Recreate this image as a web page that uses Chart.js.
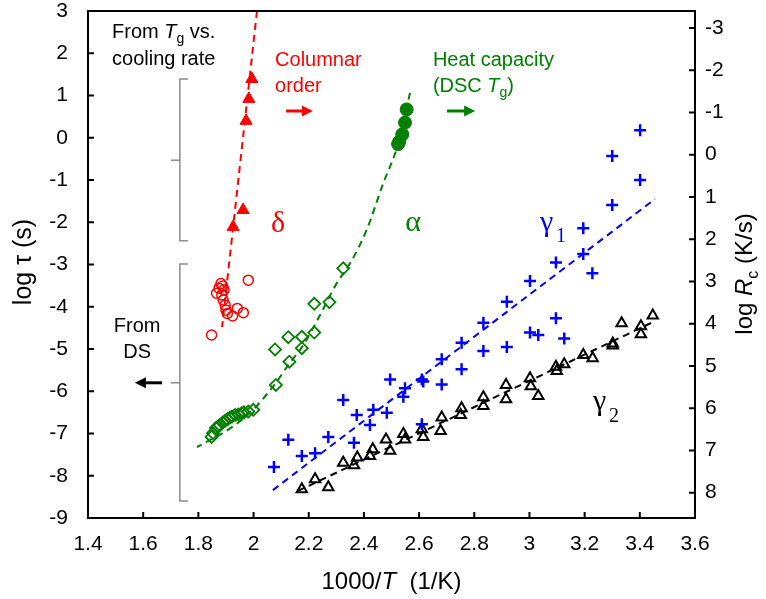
<!DOCTYPE html>
<html>
<head>
<meta charset="utf-8">
<script src="https://cdn.jsdelivr.net/npm/chart.js@4.4.1/dist/chart.umd.min.js"></script>
<style>
  body { margin: 0; background: #fff; }
</style>
</head>
<body>
<canvas id="chart" width="766" height="599"></canvas>
<script>
const xTicks = [1.4, 1.6, 1.8, 2, 2.2, 2.4, 2.6, 2.8, 3, 3.2, 3.4, 3.6];
const yTicks = [-9, -8, -7, -6, -5, -4, -3, -2, -1, 0, 1, 2, 3];
const rcTicks = [-3, -2, -1, 0, 1, 2, 3, 4, 5, 6, 7, 8];

// delta, from Tg vs. cooling rate (filled triangles)
const deltaTgX = [1.994, 1.983, 1.973, 1.962, 1.926];
const deltaTgY = [1.39, 0.92, 0.40, -1.71, -2.11];
// delta, from DS (open circles)
const deltaDsX = [1.981, 1.882, 1.888, 1.875, 1.893, 1.866, 1.885, 1.890, 1.897, 1.900, 1.905, 1.941, 1.963, 1.924, 1.848];
const deltaDsY = [-3.37, -3.45, -3.51, -3.56, -3.60, -3.68, -3.72, -3.84, -3.96, -4.08, -4.16, -4.04, -4.14, -4.22, -4.67];
const deltaFitX = [2.0125, 1.886];
const deltaFitY = [3, -4.48];

// alpha, heat capacity (filled circles)
const alphaDscX = [2.555, 2.549, 2.539, 2.528, 2.524];
const alphaDscY = [0.67, 0.36, 0.08, -0.09, -0.15];
// alpha, from DS (open diamonds)
const alphaDsX = [2.325, 2.275, 2.220, 2.220, 2.175, 2.126, 2.175, 2.078, 2.130, 2.081, 1.999, 1.981, 1.965, 1.957, 1.945, 1.933,
  1.922, 1.915, 1.906, 1.897, 1.888, 1.878, 1.870, 1.864, 1.853, 1.848];
const alphaDsY = [-3.09, -3.89, -3.93, -4.61, -4.71, -4.72, -4.98, -5.01, -5.30, -5.85, -6.44, -6.48, -6.50, -6.52, -6.55, -6.56,
  -6.60, -6.62, -6.66, -6.70, -6.74, -6.80, -6.84, -6.87, -6.99, -7.08];
const alphaFitX = [2.567, 2.525, 2.470, 2.410, 2.350, 2.301, 2.235, 2.176, 2.129, 2.081, 1.998, 1.915, 1.795];
const alphaFitY = [1.06, -0.13, -1.08, -2.18, -2.97, -3.45, -4.27, -4.95, -5.35, -5.80, -6.44, -6.88, -7.32];

// gamma1 (plus)
const gamma1X = [2.074, 2.126, 2.175, 2.223, 2.271, 2.325, 2.364, 2.374, 2.422, 2.434, 2.483, 2.495, 2.543, 2.549, 2.610, 2.615,
  2.610, 2.682, 2.682, 2.754, 2.754, 2.833, 2.833, 2.918, 2.918, 3.002, 3.002, 3.032, 3.096, 3.096, 3.126, 3.195, 3.195, 3.228,
  3.300, 3.300, 3.401, 3.401];
const gamma1Y = [-7.79, -7.15, -7.53, -7.47, -7.08, -6.21, -7.22, -6.56, -6.80, -6.44, -6.51, -5.72, -6.13, -5.93, -5.72, -5.77,
  -6.78, -5.24, -5.84, -4.85, -5.48, -4.38, -5.05, -3.88, -4.95, -3.39, -4.61, -4.67, -2.95, -4.27, -4.75, -2.14, -2.75, -3.21,
  -1.59, -0.43, -1.00, 0.18];
const gamma1FitX = [2.070, 3.455];
const gamma1FitY = [-8.34, -1.45];

// gamma2 (open triangles)
const gamma2X = [2.175, 2.223, 2.271, 2.325, 2.364, 2.376, 2.422, 2.432, 2.480, 2.495, 2.543, 2.549, 2.610, 2.615, 2.682, 2.678,
  2.754, 2.751, 2.833, 2.833, 2.915, 2.915, 3.002, 3.005, 3.032, 3.096, 3.099, 3.126, 3.195, 3.229, 3.302, 3.302, 3.334, 3.404,
  3.404, 3.447];
const gamma2Y = [-8.32, -8.08, -8.27, -7.69, -7.75, -7.57, -7.53, -7.37, -7.14, -7.41, -7.01, -7.14, -6.90, -7.08, -6.62, -6.94,
  -6.40, -6.56, -6.14, -6.35, -5.85, -6.19, -5.69, -5.88, -6.11, -5.42, -5.52, -5.36, -5.14, -5.22, -4.87, -4.92, -4.39, -4.46,
  -4.65, -4.21];
const gamma2FitX = [2.161, 3.455];
const gamma2FitY = [-8.36, -4.34];

const SANS = '"Liberation Sans", Arial, sans-serif';
const SERIF = '"Liberation Serif", "Times New Roman", serif';
const RED = '#ff0000', GREEN = '#008000', BLUE = '#0000ff';

const pts = (xs, ys) => xs.map((x, i) => ({ x, y: ys[i] }));

function marks(data, style, color, radius, filled, width) {
  return {
    data, showLine: false, pointStyle: style, pointRadius: radius,
    borderColor: color, backgroundColor: filled ? color : 'rgba(0,0,0,0)',
    pointBorderWidth: width
  };
}
function fit(data, color, smooth) {
  return {
    data, showLine: true, pointRadius: 0, borderColor: color, borderWidth: 2,
    borderDash: [7, 5], cubicInterpolationMode: smooth ? 'monotone' : 'default', fill: false
  };
}

// text with italic / subscript pieces
function rich(ctx, parts, x, y, size, color, align) {
  const fontOf = s => (s === 'i' ? 'italic ' : '') + (s === 'sub' ? Math.round(size * 0.68) : size) + 'px ' + SANS;
  let w = 0;
  parts.forEach(([t, s]) => { ctx.font = fontOf(s); w += ctx.measureText(t).width; });
  let cx = align === 'center' ? x - w / 2 : x;
  ctx.fillStyle = color;
  ctx.textAlign = 'left';
  ctx.textBaseline = 'alphabetic';
  parts.forEach(([t, s]) => {
    ctx.font = fontOf(s);
    ctx.fillText(t, cx, s === 'sub' ? y + size * 0.25 : y);
    cx += ctx.measureText(t).width;
  });
}

function arrow(ctx, x1, x2, y, color) {
  const dir = Math.sign(x2 - x1);
  ctx.strokeStyle = color; ctx.fillStyle = color; ctx.lineWidth = 3;
  ctx.beginPath(); ctx.moveTo(x1, y); ctx.lineTo(x2 - dir * 8, y); ctx.stroke();
  ctx.beginPath(); ctx.moveTo(x2, y); ctx.lineTo(x2 - dir * 11, y - 5.5); ctx.lineTo(x2 - dir * 11, y + 5.5); ctx.closePath(); ctx.fill();
}

function bracket(ctx, x, top, mid, bottom) {
  ctx.strokeStyle = '#8c8c8c'; ctx.lineWidth = 1.5;
  ctx.beginPath();
  ctx.moveTo(x + 8, top); ctx.lineTo(x, top); ctx.lineTo(x, bottom); ctx.lineTo(x + 8, bottom);
  ctx.moveTo(x, mid); ctx.lineTo(x - 9, mid);
  ctx.stroke();
}

const decor = {
  id: 'decor',
  afterDraw(chart) {
    const { ctx, chartArea: a, scales } = chart;
    const X = v => scales.x.getPixelForValue(v);
    const Y = v => scales.y.getPixelForValue(v);
    ctx.save();
    // frame and inward ticks
    ctx.strokeStyle = '#000'; ctx.lineWidth = 2;
    ctx.strokeRect(a.left, a.top, a.right - a.left, a.bottom - a.top);
    ctx.beginPath();
    xTicks.forEach(v => { const p = X(v); ctx.moveTo(p, a.bottom); ctx.lineTo(p, a.bottom - 6); });
    yTicks.forEach(v => { const p = Y(v); ctx.moveTo(a.left, p); ctx.lineTo(a.left + 6, p); });
    rcTicks.forEach(v => { const p = scales.rc.getPixelForValue(v); ctx.moveTo(a.right, p); ctx.lineTo(a.right - 6, p); });
    ctx.stroke();

    // axis titles
    rich(ctx, [['1000/', ''], ['T', 'i'], ['  (1/K)', '']], (a.left + a.right) / 2, 589, 24, '#000', 'center');
    ctx.save();
    ctx.translate(31, 262);
    ctx.rotate(-Math.PI / 2);
    rich(ctx, [['log ', ''], ['τ', ''], [' (s)', '']], 0, 0, 25, '#000', 'center');
    ctx.restore();
    ctx.save();
    ctx.translate(752, 274);
    ctx.rotate(-Math.PI / 2);
    rich(ctx, [['log ', ''], ['R', 'i'], ['c', 'sub'], [' (K/s)', '']], 0, 0, 24, '#000', 'center');
    ctx.restore();

    // annotations
    rich(ctx, [['From ', ''], ['T', 'i'], ['g', 'sub'], [' vs.', '']], X(1.487), Y(2.361), 20, '#000');
    rich(ctx, [['cooling rate', '']], X(1.487), Y(1.722), 20, '#000');
    rich(ctx, [['Columnar', '']], X(2.078), Y(1.698), 20, RED);
    rich(ctx, [['order', '']], X(2.078), Y(1.083), 20, RED);
    arrow(ctx, X(2.118), X(2.215), Y(0.633), RED);
    rich(ctx, [['Heat capacity', '']], X(2.650), Y(1.698), 20, GREEN);
    rich(ctx, [['(DSC ', ''], ['T', 'i'], ['g', 'sub'], [')', '']], X(2.650), Y(1.083), 20, GREEN);
    arrow(ctx, X(2.701), X(2.803), Y(0.633), GREEN);
    rich(ctx, [['From', '']], X(1.578), Y(-4.60), 20, '#000', 'center');
    rich(ctx, [['DS', '']], X(1.578), Y(-5.21), 20, '#000', 'center');
    arrow(ctx, X(1.668), X(1.570), Y(-5.80), '#000');
    bracket(ctx, X(1.733), Y(1.39), Y(-0.53), Y(-2.44));
    bracket(ctx, X(1.733), Y(-2.99), Y(-5.80), Y(-8.60));

    // greek labels
    ctx.textAlign = 'center'; ctx.textBaseline = 'alphabetic';
    ctx.font = '30px ' + SERIF;
    ctx.fillStyle = RED; ctx.fillText('δ', X(2.089), Y(-2.23));
    ctx.fillStyle = GREEN; ctx.fillText('α', X(2.578), Y(-2.21));
    ctx.textAlign = 'left';
    ctx.fillStyle = BLUE; ctx.fillText('γ', X(3.038), Y(-2.21));
    ctx.font = '20px ' + SERIF; ctx.fillText('1', X(3.038) + 16, Y(-2.47));
    ctx.font = '30px ' + SERIF;
    ctx.fillStyle = '#000'; ctx.fillText('γ', X(3.230), Y(-6.44));
    ctx.font = '20px ' + SERIF; ctx.fillText('2', X(3.230) + 16, Y(-6.72));
    ctx.restore();
  }
};

const tickFont = { family: SANS, size: 21, lineHeight: 1 };

new Chart(document.getElementById('chart'), {
  type: 'scatter',
  data: {
    datasets: [
      fit(pts(deltaFitX, deltaFitY), RED),
      fit(pts(alphaFitX, alphaFitY), GREEN, true),
      fit(pts(gamma1FitX, gamma1FitY), BLUE),
      fit(pts(gamma2FitX, gamma2FitY), '#000'),
      marks(pts(deltaTgX, deltaTgY), 'triangle', RED, 7, true, 1),
      marks(pts(deltaDsX, deltaDsY), 'circle', RED, 5, false, 1.5),
      marks(pts(alphaDsX, alphaDsY), 'rectRot', GREEN, 6, false, 1.8),
      marks(pts(alphaDscX, alphaDscY), 'circle', GREEN, 6.5, true, 1),
      marks(pts(gamma1X, gamma1Y), 'cross', BLUE, 6, false, 2.5),
      marks(pts(gamma2X, gamma2Y), 'triangle', '#000', 6, false, 2)
    ]
  },
  options: {
    responsive: false,
    animation: false,
    layout: { padding: { top: 11, left: 0, right: 0, bottom: 0 } },
    plugins: { legend: { display: false }, tooltip: { enabled: false } },
    scales: {
      x: {
        type: 'linear', position: 'bottom', min: 1.4, max: 3.6,
        afterBuildTicks: s => { s.ticks = xTicks.map(v => ({ value: v })); },
        afterFit: s => { s.height = 81; },
        grid: { display: false, drawTicks: false },
        border: { display: false },
        ticks: { font: tickFont, color: '#000', padding: 16, maxRotation: 0, autoSkip: false, callback: v => String(v) }
      },
      y: {
        type: 'linear', position: 'left', min: -9, max: 3,
        afterBuildTicks: s => { s.ticks = yTicks.map(v => ({ value: v })); },
        afterFit: s => { s.width = 88; s.paddingTop = 0; s.paddingBottom = 0; },
        grid: { display: false, drawTicks: false },
        border: { display: false },
        ticks: { font: tickFont, color: '#000', padding: 20, callback: v => String(v) }
      },
      rc: {
        type: 'linear', position: 'right', min: -3.4, max: 8.6, reverse: true,
        afterBuildTicks: s => { s.ticks = rcTicks.map(v => ({ value: v })); },
        afterFit: s => { s.width = 71; s.paddingTop = 0; s.paddingBottom = 0; },
        grid: { display: false, drawTicks: false },
        border: { display: false },
        ticks: { font: tickFont, color: '#000', padding: 10, callback: v => String(v) }
      }
    }
  },
  plugins: [decor]
});
</script>
</body>
</html>
